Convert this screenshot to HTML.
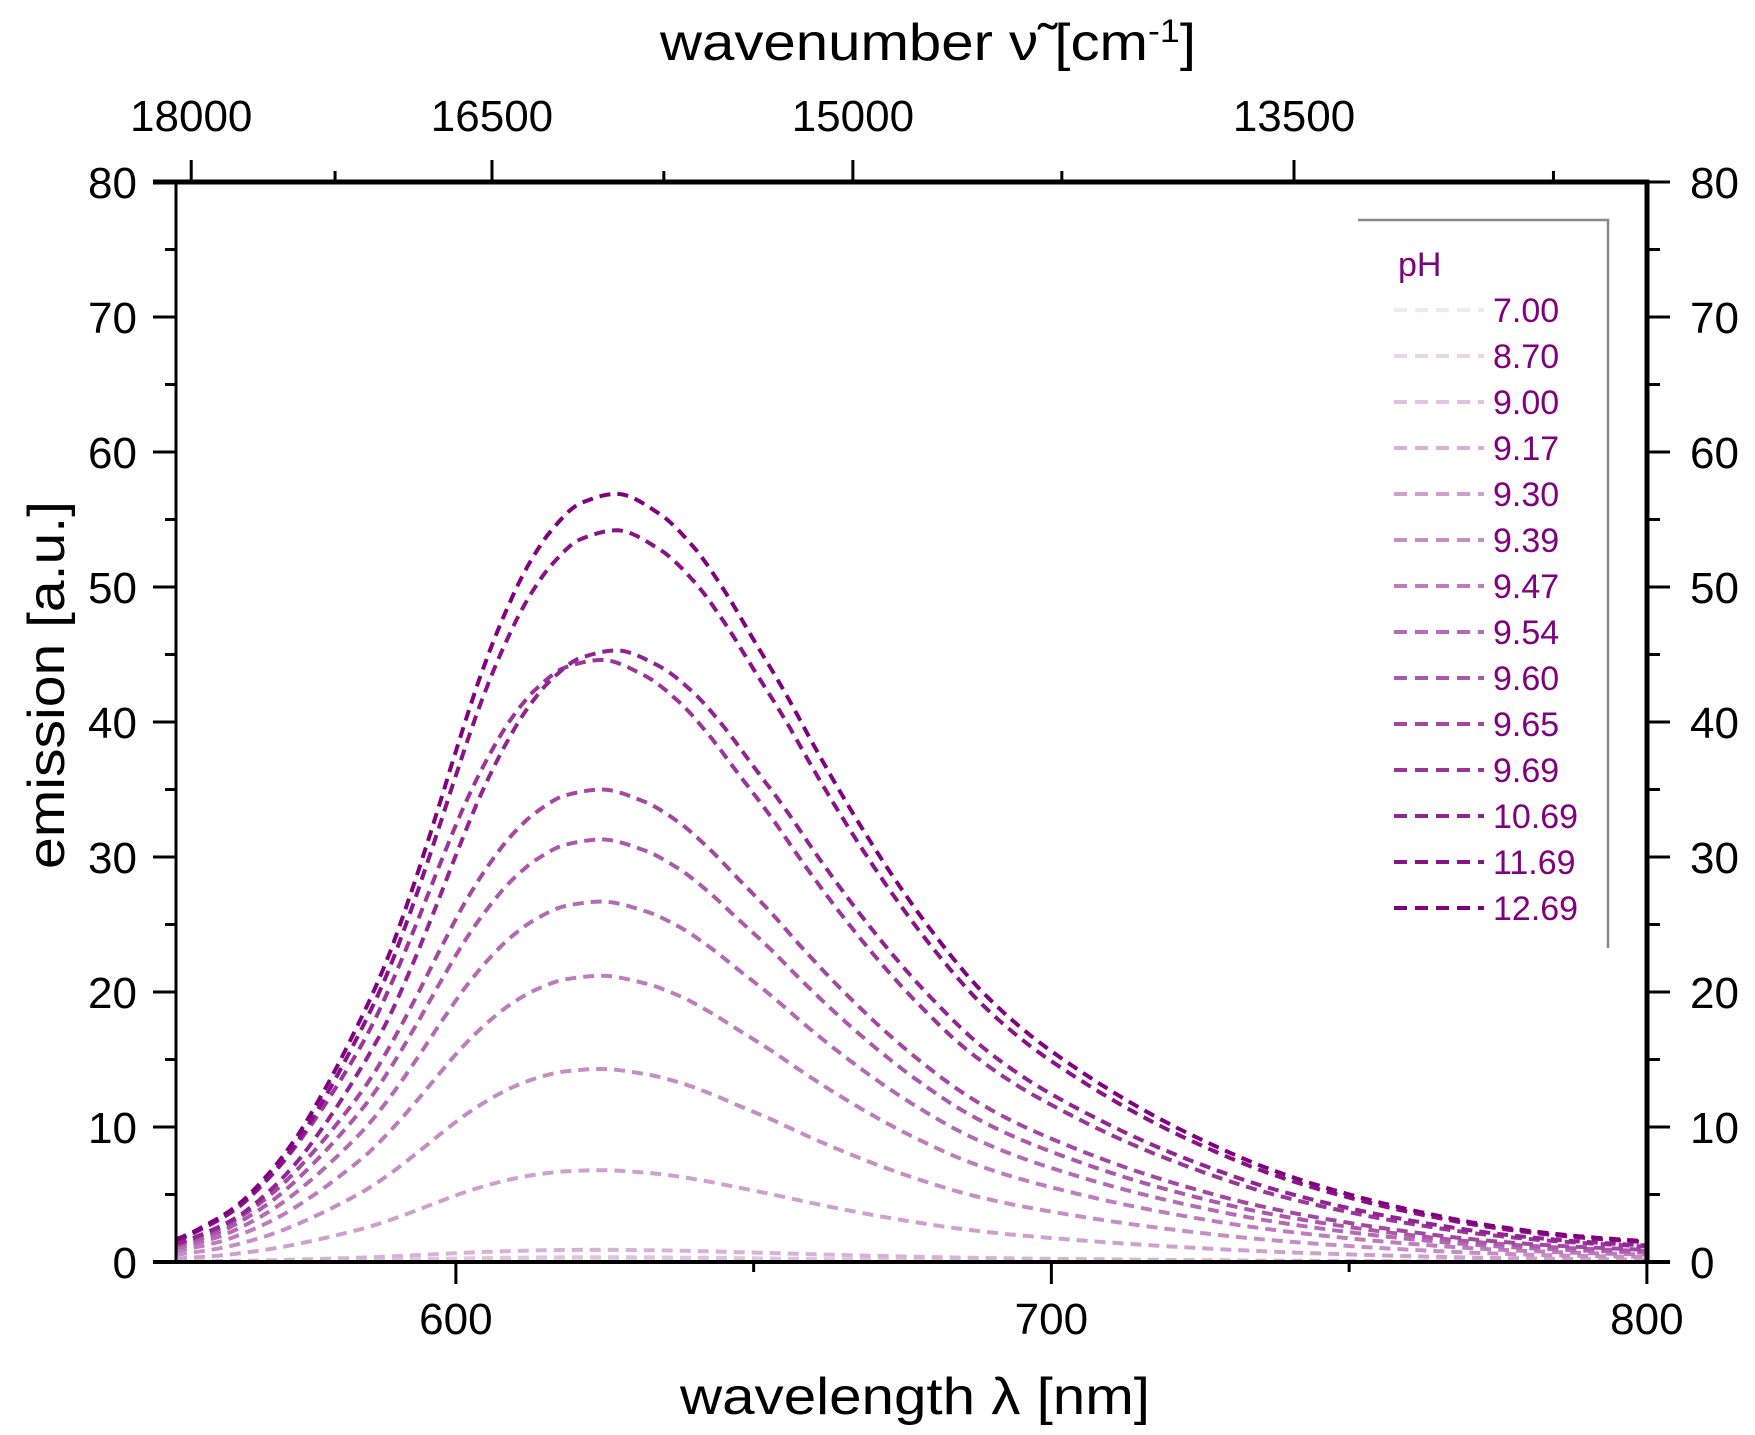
<!DOCTYPE html>
<html><head><meta charset="utf-8">
<style>html,body{margin:0;padding:0;background:#fff;}svg{display:block;}</style>
</head><body>
<svg id="s" xmlns="http://www.w3.org/2000/svg" width="1755" height="1435" viewBox="0 0 1755 1435" font-family="Liberation Sans, Arial, sans-serif">
<rect width="1755" height="1435" fill="#fff"/>
<g id="curves"></g>
<g id="axes" stroke="#000" fill="none">
<line x1="176" y1="182" x2="176" y2="1262" stroke-width="3"/>
<line x1="1647" y1="180" x2="1647" y2="1264" stroke-width="5"/>
<line x1="153" y1="182" x2="1649" y2="182" stroke-width="5"/>
<line x1="153" y1="1262" x2="1670" y2="1262" stroke-width="4"/>
</g>
<g id="ticks" stroke="#000" stroke-width="3"></g>
<g id="labels" font-size="44" fill="#000"></g>
<text x="680" y="1414" font-size="52" textLength="470" lengthAdjust="spacingAndGlyphs">wavelength λ [nm]</text>
<text x="660" y="60" font-size="52" textLength="536" lengthAdjust="spacingAndGlyphs">wavenumber ν̃ [cm<tspan dy="-18" font-size="32">-1</tspan><tspan dy="18">]</tspan></text>
<text transform="translate(64,685) rotate(-90)" text-anchor="middle" font-size="52" textLength="368" lengthAdjust="spacingAndGlyphs">emission [a.u.]</text>
<g id="legend">
<polyline points="1358,220 1608,220 1608,948" fill="none" stroke="#888" stroke-width="2.5"/>
<text x="1398" y="276" font-size="34" fill="#800080">pH</text>
</g>
</svg>
<script>
var NS="http://www.w3.org/2000/svg";
function el(t,a,p){var e=document.createElementNS(NS,t);for(var k in a)e.setAttribute(k,a[k]);if(p)p.appendChild(e);return e;}
function X(nm){return 176+(nm-553)*5.955;}
function Y(v){return 1262-v*13.5;}
var T=[[540,.015],[553,.03],[558,.048],[563,.072],[568,.11],[573,.16],[578,.225],[583,.3],[588,.385],[592,.47],[596,.565],[600,.665],[604,.76],[608,.84],[612,.905],[616,.952],[621,.988],[627,1],[634,.975],[640,.93],[645,.875],[650,.81],[655,.745],[661,.66],[667,.58],[674,.495],[680,.43],[688,.355],[696,.298],[704,.253],[715,.2],[725,.16],[737,.12],[750,.088],[762,.065],[775,.046],[788,.034],[800,.027],[815,.02]];
// monotone cubic (Fritsch-Carlson)
var n=T.length,dl=[],m=[];
for(var i=0;i<n-1;i++)dl.push((T[i+1][1]-T[i][1])/(T[i+1][0]-T[i][0]));
m[0]=dl[0];m[n-1]=dl[n-2];
for(var i=1;i<n-1;i++){if(dl[i-1]*dl[i]<=0)m[i]=0;else{var h0=T[i][0]-T[i-1][0],h1=T[i+1][0]-T[i][0];var w1=2*h1+h0,w2=h1+2*h0;m[i]=(w1+w2)/(w1/dl[i-1]+w2/dl[i]);}}
function prof(x){if(x<=T[0][0])return T[0][1];if(x>=T[n-1][0])return T[n-1][1];
 for(var i=0;i<n-1;i++){if(x<=T[i+1][0]){var h=T[i+1][0]-T[i][0],t=(x-T[i][0])/h,t2=t*t,t3=t2*t;
 return (2*t3-3*t2+1)*T[i][1]+(t3-2*t2+t)*h*m[i]+(-2*t3+3*t2)*T[i+1][1]+(t3-t2)*h*m[i+1];}}return 0;}
var ph=["7.00","8.70","9.00","9.17","9.30","9.39","9.47","9.54","9.60","9.65","9.69","10.69","11.69","12.69"];
var pk=[0.05,0.15,0.35,0.9,6.8,14.3,21.2,26.7,31.3,35,44.6,45.3,54.2,56.9];
var sh=[-2.5,-2.5,-2.5,-2.5,-2.5,-2.5,-2.5,-2.5,-2.5,-2.5,-2.5,0,0,0];
var cg=document.getElementById("curves"),lg=document.getElementById("legend");
for(var i=0;i<14;i++){
 var a=0.1+0.9*i/13;
 var r=Math.round(255-(127)*a),g=Math.round(255-255*a);
 var col="rgb("+r+","+g+","+r+")";
 var d="";
 for(var nm=553;nm<=800.01;nm+=0.5){var v=pk[i]*prof(nm-sh[i]);d+=(nm==553?"M":"L")+X(nm).toFixed(1)+","+Y(v).toFixed(1);}
 el("path",{d:d,fill:"none",stroke:col,"stroke-width":4,"stroke-dasharray":"11,7"},cg);
 var yy=310+i*46;
 el("line",{x1:1394,y1:yy,x2:1484,y2:yy,stroke:col,"stroke-width":4,"stroke-dasharray":"13,8"},lg);
 var t=el("text",{x:1493,y:yy+12,"font-size":34,fill:"#800080"},lg);t.textContent=ph[i];
}
var tk=document.getElementById("ticks"),lb=document.getElementById("labels");
for(var v=0;v<=80;v+=5){var y=Y(v),mj=v%10==0;
 el("line",{x1:mj?153:165,y1:y,x2:176,y2:y},tk);
 el("line",{x1:1647,y1:y,x2:mj?1670:1660,y2:y},tk);
 if(mj){var t=el("text",{x:137,y:y+16,"text-anchor":"end"},lb);t.textContent=v;
 t=el("text",{x:1690,y:y+16},lb);t.textContent=v;}}
[600,650,700,750,800].forEach(function(nm){var x=X(nm),mj=nm%100==0;
 el("line",{x1:x,y1:1262,x2:x,y2:mj?1284:1272},tk);
 if(mj){var t=el("text",{x:x,y:1334,"text-anchor":"middle"},lb);t.textContent=nm;}});
[18000,17250,16500,15750,15000,14250,13500,12750].forEach(function(k){var x=X(1e7/k),mj=k%1500==0;
 el("line",{x1:x,y1:182,x2:x,y2:mj?160:171},tk);
 if(mj){var t=el("text",{x:x,y:131,"text-anchor":"middle"},lb);t.textContent=k;}});
</script>
</body></html>
